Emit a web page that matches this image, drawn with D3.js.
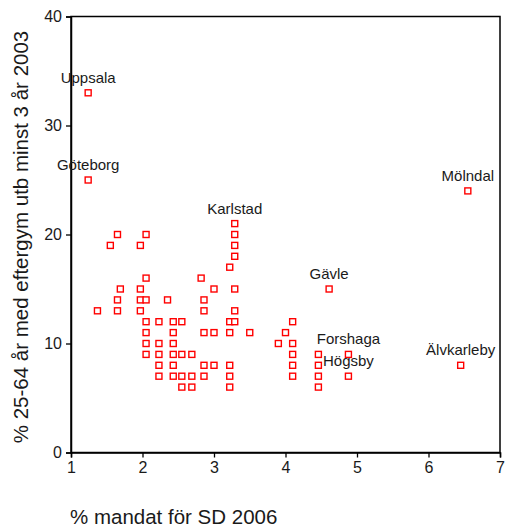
<!DOCTYPE html>
<html><head><meta charset="utf-8">
<script src="https://cdn.jsdelivr.net/npm/d3@7"></script>
<style>body{margin:0;background:#fff}svg{display:block}text{font-family:"Liberation Sans",Arial,sans-serif;fill:#1a1a1a}</style>
</head><body><svg id="c" width="507" height="530"></svg>
<script>
const xTicks = [1,2,3,4,5,6,7];
const yTicks = [0,10,20,30,40];
const xTitle = "% mandat för SD 2006";
const yTitle = "% 25-64 år med eftergym utb minst 3 år 2003";
// labelled municipalities
const labelNames = ["Uppsala","Göteborg","Mölndal","Älvkarleby","Gävle","Karlstad","Forshaga","Högsby"];
const labelX = [1.24,1.24,6.55,6.45,4.61,3.29,4.88,4.88];
const labelY = [33,25,24,8,15,21,9,7];
// other municipalities
const pointX = [3.29,3.29,3.29,3.22, 1.65,2.05,1.55,1.97, 2.05,2.82,
  1.69,1.97,3.0,3.29, 1.65,1.97,2.05,2.35,2.86, 1.37,1.65,1.97,2.86,3.29,
  2.05,2.23,2.43,2.55,3.22,3.29,4.1, 2.05,2.43,2.86,3.0,3.22,3.5,4.0,
  2.05,2.23,2.43,3.9,4.1, 2.05,2.23,2.43,2.55,2.69,4.1,4.46,
  2.23,2.43,2.86,3.0,3.22,4.1,4.46, 2.23,2.43,2.55,2.69,2.86,3.22,4.1,4.46,
  2.55,2.69,3.22,4.46];
const pointY = [20,19,18,17, 20,20,19,19, 16,16,
  15,15,15,15, 14,14,14,14,14, 13,13,13,13,13,
  12,12,12,12,12,12,12, 11,11,11,11,11,11,11,
  10,10,10,10,10, 9,9,9,9,9,9,9,
  8,8,8,8,8,8,8, 7,7,7,7,7,7,7,7,
  6,6,6,6];

const svg = d3.select("#c");
const x = d3.scaleLinear().domain([1,7]).range([71,500]);
const y = d3.scaleLinear().domain([0,40]).range([452.5,16.5]);

// frame
svg.append("rect").attr("x",71).attr("y",16.5).attr("width",429).attr("height",436)
  .attr("fill","none").attr("stroke","#000").attr("stroke-width",1.5);

const xa = svg.append("g").attr("transform","translate(0,452.5)")
  .call(d3.axisBottom(x).tickValues(xTicks).tickFormat(d3.format("d")).tickSize(5).tickPadding(4));
const ya = svg.append("g").attr("transform","translate(71,0)")
  .call(d3.axisLeft(y).tickValues(yTicks).tickSize(5).tickPadding(4));
[xa,ya].forEach(a=>{
  a.select(".domain").attr("stroke","#000").attr("stroke-width",1.5);
  a.selectAll(".tick line").attr("stroke","#000").attr("stroke-width",1.3);
  a.selectAll(".tick text").style("font-size","16px").style("font-family","Liberation Sans, Arial, sans-serif").attr("fill","#1a1a1a");
});

svg.append("text").attr("x",70).attr("y",524).style("font-size","20.5px").text(xTitle);
svg.append("text").attr("transform","translate(28,237) rotate(-90)").attr("text-anchor","middle")
  .style("font-size","20.5px").text(yTitle);

const all = pointX.map((v,i)=>({x:v,y:pointY[i]})).concat(labelX.map((v,i)=>({x:v,y:labelY[i]})));
svg.append("g").selectAll("rect").data(all).join("rect")
  .attr("x",d=>x(d.x)-3).attr("y",d=>y(d.y)-3).attr("width",6).attr("height",6)
  .attr("fill","#fff").attr("stroke","#f00").attr("stroke-width",1.4);

svg.append("g").selectAll("text").data(labelNames).join("text")
  .attr("x",(d,i)=>x(labelX[i])).attr("y",(d,i)=>y(labelY[i])-10)
  .attr("text-anchor","middle").style("font-size","15px").text(d=>d);
</script></body></html>
